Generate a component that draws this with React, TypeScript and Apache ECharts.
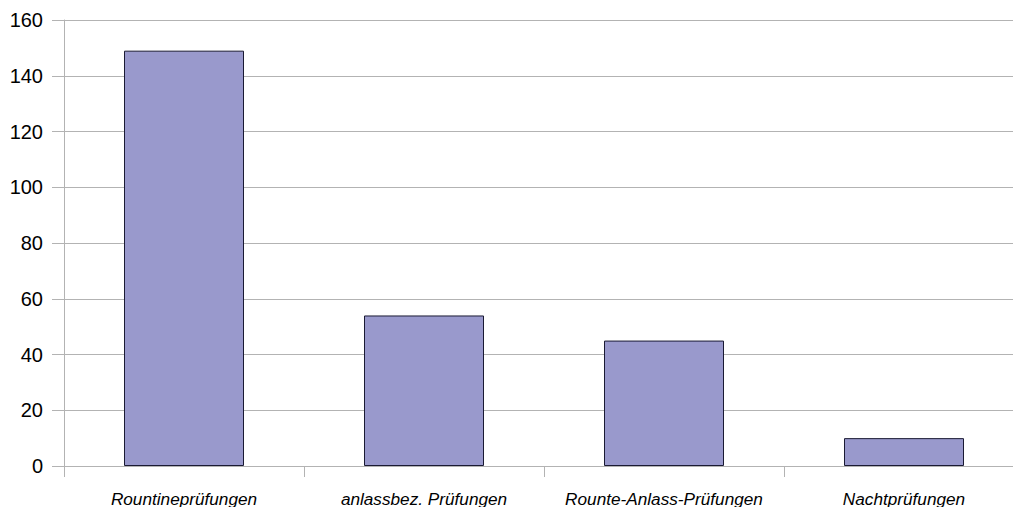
import React, { useEffect, useRef } from "react";
import * as echarts from "echarts";

const categories = [
  "Rountineprüfungen",
  "anlassbez. Prüfungen",
  "Rounte-Anlass-Prüfungen",
  "Nachtprüfungen",
];
const values = [149, 54, 45, 10];
const yTicks = { min: 0, max: 160, interval: 20 };

export default function App() {
  const ref = useRef<HTMLDivElement>(null);
  useEffect(() => {
    if (!ref.current) return;
    const chart = echarts.init(ref.current, undefined, { renderer: "svg" });
    chart.setOption({
      animation: false,
      backgroundColor: "#ffffff",
      grid: { left: 64, top: 20, width: 960, bottom: 40, containLabel: false },
      xAxis: {
        type: "category",
        data: categories,
        boundaryGap: true,
        axisLine: { show: true, lineStyle: { color: "#b3b3b3", width: 1 } },
        axisTick: { show: true, interval: 0, length: 11, lineStyle: { color: "#b3b3b3" } },
        axisLabel: {
          interval: 0,
          color: "#000",
          fontFamily: "Liberation Sans, Arial, sans-serif",
          fontStyle: "italic",
          fontSize: 17.2,
          margin: 24,
        },
        splitLine: { show: false },
      },
      yAxis: {
        type: "value",
        min: yTicks.min,
        max: yTicks.max,
        interval: yTicks.interval,
        axisLine: { show: true, lineStyle: { color: "#b3b3b3", width: 1 } },
        axisTick: { show: true, length: 12, lineStyle: { color: "#b3b3b3" } },
        axisLabel: {
          color: "#000",
          fontFamily: "Liberation Sans, Arial, sans-serif",
          fontSize: 20,
          margin: 21,
        },
        splitLine: { show: true, lineStyle: { color: "#b3b3b3", width: 1 } },
      },
      series: [
        {
          type: "bar",
          data: values,
          barWidth: 120,
          itemStyle: {
            color: "#9999cc",
            borderColor: "#1a1a33",
            borderWidth: 1,
          },
        },
      ],
    });
    return () => chart.dispose();
  }, []);
  return (
    <div
      style={{
        position: "fixed",
        left: 0,
        top: 0,
        width: 1013,
        height: 507,
        overflow: "hidden",
        background: "#fff",
      }}
    >
      <div ref={ref} style={{ width: 1040, height: 507 }} />
    </div>
  );
}
